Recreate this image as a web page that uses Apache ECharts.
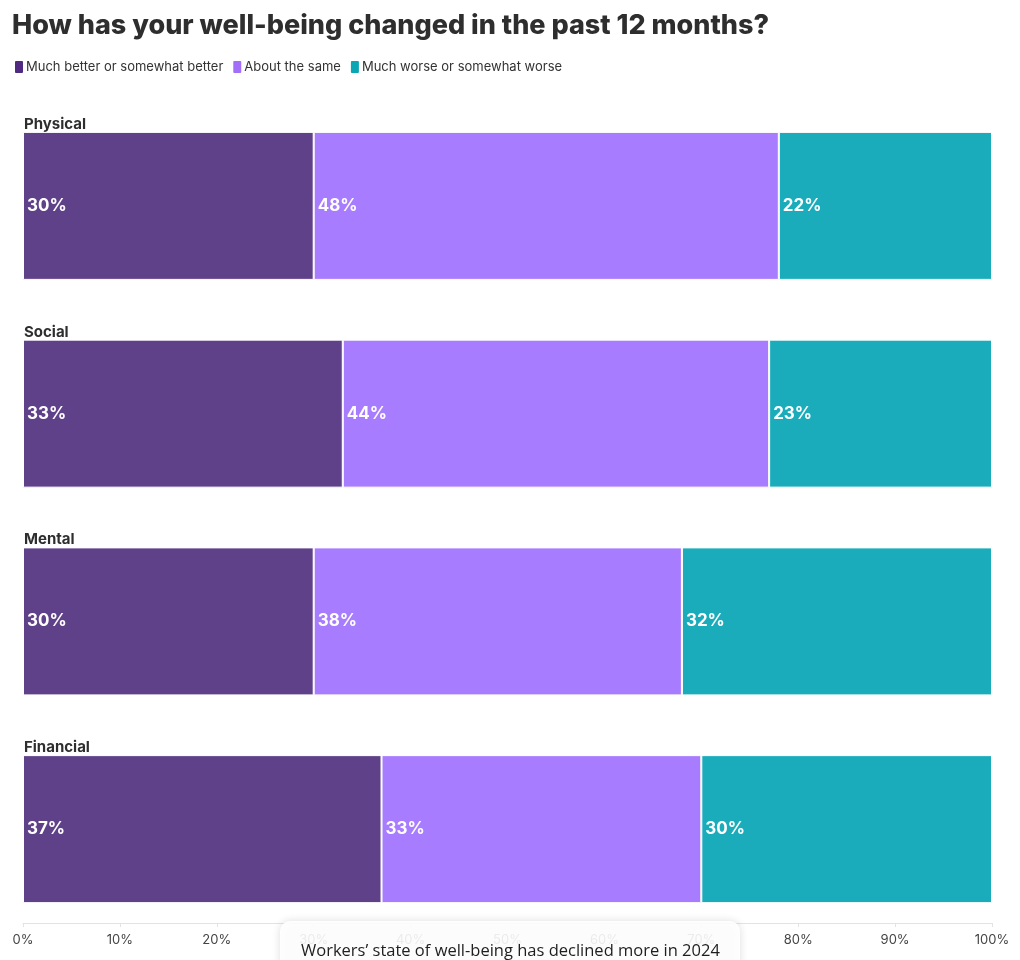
<!DOCTYPE html>
<html><head><meta charset="utf-8">
<script src="https://cdn.jsdelivr.net/npm/echarts@6/dist/echarts.min.js"></script>
<style>html,body{margin:0;padding:0;background:#fff}#c{width:1020px;height:960px}</style>
</head><body><div id="c"></div>
<script>
const categories = ['Physical', 'Social', 'Mental', 'Financial'];
const seriesNames = ['Much better or somewhat better', 'About the same', 'Much worse or somewhat worse'];
const better = [30, 33, 30, 37];
const same = [48, 44, 38, 33];
const worse = [22, 23, 32, 30];
const xTicks = [0, 10, 20, 30, 40, 50, 60, 70, 80, 90, 100];
const barColors = ['#5f4189', '#a87cfe', '#1aacbb'];
const legendColors = ['#4f2a80', '#a46ff8', '#0ba6b4'];
const title = 'How has your well-being changed in the past 12 months?';
const note = 'Workers\u2019 state of well-being has declined more in 2024';

const chart = echarts.init(document.getElementById('c'));
const mk = (name, data, i) => ({
  name, type: 'bar', stack: 'all', data, barWidth: 148,
  itemStyle: { color: barColors[i], borderColor: '#ffffff', borderWidth: 1 },
  label: { show: true, position: 'insideLeft', distance: 4, formatter: '{c}%', color: '#fff',
    fontFamily: 'Inter', fontWeight: 700, fontSize: 17 },
  emphasis: { disabled: true }
});
chart.setOption({
  animation: false,
  title: { text: title, left: 7, top: 7, textStyle: { fontFamily: 'Inter', fontWeight: 800, fontSize: 27, color: '#2e2e2e' } },
  legend: {
    left: 8, top: 54, itemWidth: 10, itemHeight: 14, itemGap: 8,
    icon: 'path://M2,0 L8,0 Q10,0 10,2 L10,12 Q10,14 8,14 L2,14 Q0,14 0,12 L0,2 Q0,0 2,0 Z',
    textStyle: { fontFamily: 'Inter', fontSize: 13, color: '#333', padding: [0, 0, 0, -3] },
    data: seriesNames.map((n, i) => ({ name: n, itemStyle: { color: legendColors[i] } })),
    selectedMode: false
  },
  grid: { left: 23, right: 28, top: 102, bottom: 27, containLabel: false },
  xAxis: {
    type: 'value', min: 0, max: 100, interval: 10, offset: -10,
    axisLine: { show: true, lineStyle: { color: '#e3e3e3' } },
    axisTick: { show: true, length: 4, lineStyle: { color: '#e3e3e3' } },
    splitLine: { show: false },
    axisLabel: { formatter: v => xTicks.includes(v) ? v + '%' : '', color: '#444', fontFamily: 'Inter', fontSize: 13, margin: 11 }
  },
  yAxis: {
    type: 'category', data: categories, inverse: true,
    axisLine: { show: false }, axisTick: { show: false },
    axisLabel: { inside: true, margin: 1, align: 'left', verticalAlign: 'bottom', padding: [0, 0, 74, 0],
      color: '#2e2e2e', fontFamily: 'Inter', fontWeight: 700, fontSize: 15 }
  },
  series: [mk(seriesNames[0], better, 0), mk(seriesNames[1], same, 1), mk(seriesNames[2], worse, 2)],
  graphic: [
    { type: 'rect', z: 100, shape: { x: 280, y: 921, width: 460, height: 70, r: 10 },
      style: { fill: 'rgba(255,255,255,0.9)', shadowBlur: 8, shadowColor: 'rgba(0,0,0,0.15)', shadowOffsetY: 0 } },
    { type: 'text', z: 101, x: 301, y: 951, style: { text: note, fill: '#1e1e1e', fontFamily: 'Open Sans', fontSize: 16.5, verticalAlign: 'middle' } }
  ]
});
</script></body></html>
